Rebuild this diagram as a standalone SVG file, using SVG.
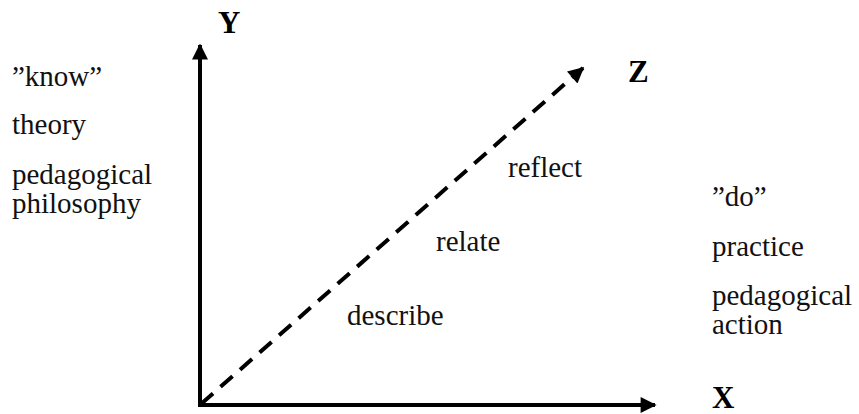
<svg xmlns="http://www.w3.org/2000/svg" width="859" height="414" viewBox="0 0 859 414">
<defs>
<style>
.t{font-family:"Liberation Serif","DejaVu Serif",serif;font-size:29px;fill:#111}
.b{font-family:"Liberation Serif","DejaVu Serif",serif;font-size:31px;font-weight:bold;fill:#000}
.ax{stroke:#000;stroke-width:4;fill:none}
</style>
<marker id="ah" viewBox="0 0 10 10" refX="9" refY="5" markerWidth="4.25" markerHeight="4" markerUnits="strokeWidth" orient="auto"><path d="M0,0 L10,5 L0,10 z" fill="#000"/></marker>
</defs>
<rect width="859" height="414" fill="#fff"/>
<g id="connectors">
<line class="ax" x1="200" y1="407" x2="200" y2="45" marker-end="url(#ah)"/>
<line class="ax" x1="198" y1="405" x2="655" y2="405" marker-end="url(#ah)"/>
<line class="ax" x1="201" y1="404" x2="583" y2="68" stroke-dasharray="16,10" marker-end="url(#ah)"/>
</g>
<g id="axis-y"><text class="b" x="218" y="33">Y</text></g>
<g id="axis-z"><text class="b" x="628" y="82">Z</text></g>
<g id="axis-x"><text class="b" x="712" y="408">X</text></g>
<g id="left-labels">
<text class="t" x="12" y="86">”know”</text>
<text class="t" x="12" y="134">theory</text>
<text class="t" x="12" y="184">pedagogical</text>
<text class="t" x="12" y="213">philosophy</text>
</g>
<g id="right-labels">
<text class="t" x="712" y="206">”do”</text>
<text class="t" x="712" y="256">practice</text>
<text class="t" x="712" y="305">pedagogical</text>
<text class="t" x="712" y="334">action</text>
</g>
<g id="steps">
<text class="t" x="508" y="177">reflect</text>
<text class="t" x="436" y="251">relate</text>
<text class="t" x="347" y="325">describe</text>
</g>
</svg>
